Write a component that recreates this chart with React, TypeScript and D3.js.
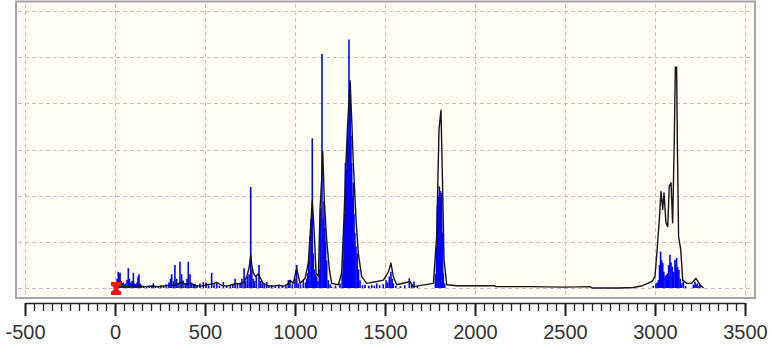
import * as d3 from "d3";
import { useRef, useEffect } from "react";

// x axis labels (wavenumber) and y grid levels
const xTicks = [-500, 0, 500, 1000, 1500, 2000, 2500, 3000, 3500];
const yGrid = [0, 1, 2, 3, 4, 5, 6];

// stick spectrum (blue) : [position, intensity]
const sticksLow: [number, number][] = [
  [5, 0.12], [12, 0.2], [18, 0.35], [24, 0.3], [28, 0.33], [34, 0.15], [40, 0.1], [46, 0.12],
  [52, 0.08], [60, 0.1], [67, 0.18], [74, 0.43], [80, 0.2], [88, 0.12], [95, 0.15], [102, 0.33],
  [108, 0.1], [115, 0.08], [122, 0.12], [128, 0.25], [133, 0.3], [140, 0.1], [148, 0.06],
  [160, 0.05], [175, 0.04], [190, 0.05], [205, 0.06], [213, 0.1], [225, 0.05], [240, 0.04],
  [255, 0.06], [270, 0.05], [285, 0.08], [300, 0.12], [308, 0.2], [315, 0.3], [325, 0.15],
  [333, 0.5], [342, 0.2], [350, 0.1], [361, 0.57], [370, 0.3], [378, 0.16], [390, 0.1],
  [400, 0.2], [407, 0.57], [417, 0.3], [425, 0.12], [435, 0.08], [444, 0.09], [455, 0.06],
  [472, 0.1], [491, 0.13], [506, 0.12], [520, 0.06], [537, 0.33], [550, 0.08], [565, 0.1],
  [580, 0.05], [602, 0.13], [620, 0.06], [640, 0.05], [655, 0.08], [667, 0.2], [680, 0.1],
  [695, 0.12], [705, 0.2], [717, 0.43], [725, 0.15], [735, 0.25], [745, 0.3], [754, 2.19],
  [760, 0.4], [768, 0.2], [775, 0.15], [785, 0.25], [800, 0.5], [810, 0.15], [820, 0.1],
  [830, 0.08], [843, 0.13], [855, 0.05], [870, 0.06], [890, 0.04], [910, 0.05], [930, 0.06],
  [950, 0.08], [963, 0.17], [972, 0.15], [985, 0.08],
];

const sticksMid: [number, number][] = [
  [1000, 0.2], [1009, 0.5], [1018, 0.1], [1030, 0.08], [1046, 0.17], [1058, 0.12], [1065, 0.2],
  [1070, 0.32], [1076, 0.6], [1083, 1.12], [1090, 1.5], [1096, 3.24], [1102, 0.75], [1108, 0.4],
  [1114, 0.3], [1120, 0.25], [1128, 0.15], [1135, 0.4], [1140, 1.2], [1143, 1.73], [1150, 5.07],
  [1156, 1.5], [1161, 1.88], [1166, 1.3], [1170, 1.0], [1176, 0.6], [1185, 0.17], [1195, 0.08],
  [1204, 0.03], [1225, 0.05], [1250, 0.1], [1262, 0.3], [1268, 0.6], [1272, 1.12], [1276, 1.6],
  [1280, 2.71], [1284, 2.2], [1287, 2.57], [1290, 3.0], [1293, 3.58], [1297, 3.2], [1300, 5.38],
  [1304, 4.0], [1307, 4.41], [1311, 3.3], [1315, 2.71], [1319, 2.0], [1324, 2.28], [1328, 1.6],
  [1333, 1.19], [1339, 0.9], [1346, 0.75], [1353, 0.4], [1361, 0.17], [1375, 0.06], [1389, 0.07],
  [1410, 0.05], [1426, 0.07], [1440, 0.05], [1454, 0.1], [1470, 0.06], [1490, 0.08], [1506, 0.17],
  [1515, 0.12], [1524, 0.25], [1533, 0.35], [1540, 0.2], [1546, 0.1], [1560, 0.05], [1585, 0.04],
  [1610, 0.06], [1635, 0.21], [1648, 0.08], [1661, 0.14], [1680, 0.05], [1780, 0.3], [1786, 0.9],
  [1791, 1.77], [1796, 2.0], [1802, 2.2], [1808, 2.1], [1815, 2.06], [1820, 1.2], [1824, 0.32],
  [1832, 0.1],
];

const sticksHigh: [number, number][] = [
  [2990, 0.05], [3005, 0.1], [3012, 0.12], [3019, 0.17], [3025, 0.5], [3031, 0.79], [3037, 0.6],
  [3043, 0.54], [3049, 0.35], [3056, 0.25], [3062, 0.28], [3069, 0.32], [3076, 0.5], [3083, 0.72],
  [3089, 0.55], [3096, 0.46], [3103, 0.35], [3111, 0.61], [3116, 0.5], [3120, 0.65], [3126, 0.45],
  [3133, 0.39], [3140, 0.2], [3148, 0.1], [3157, 0.14], [3170, 0.04], [3213, 0.07], [3222, 0.14],
  [3228, 0.08], [3235, 0.1], [3242, 0.05], [3250, 0.07],
];

// broadened spectrum (black line) : [position, intensity]
const curveLow: [number, number][] = [
  [0, 0.02], [40, 0.04], [80, 0.03], [120, 0.05], [160, 0.03], [200, 0.04], [240, 0.03],
  [280, 0.05], [320, 0.06], [345, 0.09], [370, 0.12], [395, 0.08], [420, 0.1], [450, 0.05],
  [480, 0.04], [510, 0.07], [540, 0.09], [565, 0.12], [590, 0.06], [620, 0.04], [650, 0.07],
  [675, 0.1], [700, 0.08], [720, 0.15], [735, 0.28], [746, 0.46], [754, 0.72], [760, 0.5],
  [768, 0.33], [780, 0.25], [796, 0.3], [810, 0.2], [823, 0.1], [850, 0.05], [880, 0.04],
  [910, 0.06], [940, 0.04], [960, 0.08], [972, 0.17], [991, 0.1],
];

const curveMid: [number, number][] = [
  [1009, 0.43], [1028, 0.1], [1056, 0.21], [1074, 0.54], [1087, 1.33], [1096, 1.88], [1106, 1.26],
  [1117, 0.32], [1130, 0.25], [1139, 1.7], [1148, 2.35], [1154, 2.96], [1163, 1.88], [1176, 1.04],
  [1191, 0.39], [1204, 0.1], [1241, 0.07], [1259, 0.32], [1272, 1.48], [1283, 2.71], [1293, 3.58],
  [1306, 4.49], [1315, 3.65], [1324, 2.71], [1339, 1.48], [1352, 0.75], [1370, 0.25], [1398, 0.1],
  [1454, 0.14], [1491, 0.17], [1519, 0.35], [1533, 0.54], [1546, 0.25], [1565, 0.07], [1639, 0.14],
  [1657, 0.03], [1769, 0.1], [1787, 1.12], [1800, 3.43], [1811, 3.85], [1820, 2.2], [1828, 0.61],
  [1843, 0.07], [1900, 0.05], [2000, 0.05], [2110, 0.05], [2115, 0.03], [2300, 0.03], [2500, 0.02],
  [2640, 0.03], [2650, 0.0], [2800, 0.0], [2880, 0.01], [2930, 0.05], [2960, 0.1],
];

const curveHigh: [number, number][] = [
  [2985, 0.15], [3000, 0.25], [3013, 0.9], [3024, 1.48], [3033, 2.09], [3043, 1.7], [3050, 2.06],
  [3061, 1.41], [3071, 1.33], [3079, 2.2], [3089, 2.28], [3098, 1.41], [3107, 3.15], [3113, 4.78],
  [3120, 4.78], [3124, 3.22], [3131, 1.12], [3143, 0.83], [3154, 0.17], [3176, 0.1], [3204, 0.1],
  [3228, 0.21], [3250, 0.07], [3269, 0.0],
];

const W = 772, H = 358;

export default function App() {
  const ref = useRef<SVGSVGElement>(null);

  useEffect(() => {
    const svg = d3.select(ref.current);
    svg.selectAll("*").remove();

    const x = d3.scaleLinear().domain([-500, 3500]).range([25, 745]);
    const y = d3.scaleLinear().domain([0, 6]).range([288, 11]);

    // plot frame
    svg.append("rect")
      .attr("x", 16).attr("y", 1.5)
      .attr("width", 739).attr("height", 296.5)
      .attr("fill", "#fefef4")
      .attr("stroke", "#a4a4a4")
      .attr("stroke-width", 2);

    // dashed grid
    const grid = svg.append("g")
      .attr("stroke", "#c4c4c4")
      .attr("stroke-width", 1)
      .attr("stroke-dasharray", "4,3");
    grid.selectAll("line.v").data(xTicks).join("line")
      .attr("class", "v")
      .attr("x1", d => x(d) + 0.5).attr("x2", d => x(d) + 0.5)
      .attr("y1", 4).attr("y2", 296);
    grid.selectAll("line.h").data(yGrid).join("line")
      .attr("class", "h")
      .attr("x1", 18).attr("x2", 753)
      .attr("y1", d => Math.round(y(d)) + 0.5).attr("y2", d => Math.round(y(d)) + 0.5);

    // stick spectrum
    const sticks = [...sticksLow, ...sticksMid, ...sticksHigh];
    svg.append("g")
      .attr("stroke", "#0000ff")
      .attr("stroke-width", 1.6)
      .selectAll("line").data(sticks).join("line")
      .attr("x1", d => x(d[0])).attr("x2", d => x(d[0]))
      .attr("y1", y(0)).attr("y2", d => y(d[1]));

    // broadened spectrum
    const curve = [...curveLow, ...curveMid, ...curveHigh];
    svg.append("path")
      .datum(curve)
      .attr("fill", "none")
      .attr("stroke", "#151515")
      .attr("stroke-width", 1.4)
      .attr("stroke-linejoin", "round")
      .attr("d", d3.line<[number, number]>()
        .x(d => x(d[0]))
        .y(d => y(d[1]))
      );

    // red marker at zero
    const mx = x(0) + 1;
    svg.append("path")
      .attr("fill", "#ff1010")
      .attr("d", `M${mx - 5},282 h10 v3.5 l-2.5,1.5 v3 l2.5,1.5 v3.5 h-10 v-3.5 l2.5,-1.5 v-3 l-2.5,-1.5 z`);

    // axis: minor ticks
    svg.append("g")
      .attr("transform", "translate(0,303)")
      .call(d3.axisBottom(x).tickValues(d3.range(-500, 3501, 50)).tickSize(8).tickSizeOuter(0).tickFormat(() => ""))
      .call(g => g.select(".domain").attr("stroke", "#222").attr("stroke-width", 1.5))
      .call(g => g.selectAll(".tick line").attr("stroke", "#222").attr("stroke-width", 1.3));

    // axis: major ticks + labels
    svg.append("g")
      .attr("transform", "translate(0,303)")
      .call(d3.axisBottom(x).tickValues(xTicks).tickSize(13).tickSizeOuter(0).tickPadding(9)
        .tickFormat(d => String(d)))
      .call(g => g.select(".domain").remove())
      .call(g => g.selectAll(".tick line").attr("stroke", "#222").attr("stroke-width", 2))
      .call(g => g.selectAll(".tick text")
        .attr("fill", "#333")
        .attr("font-family", "'Liberation Sans', Arial, sans-serif")
        .attr("font-size", 20));
  }, []);

  return (
    <svg
      ref={ref}
      width={W}
      height={H}
      style={{ position: "absolute", left: 0, top: 0, background: "#fff" }}
    />
  );
}
